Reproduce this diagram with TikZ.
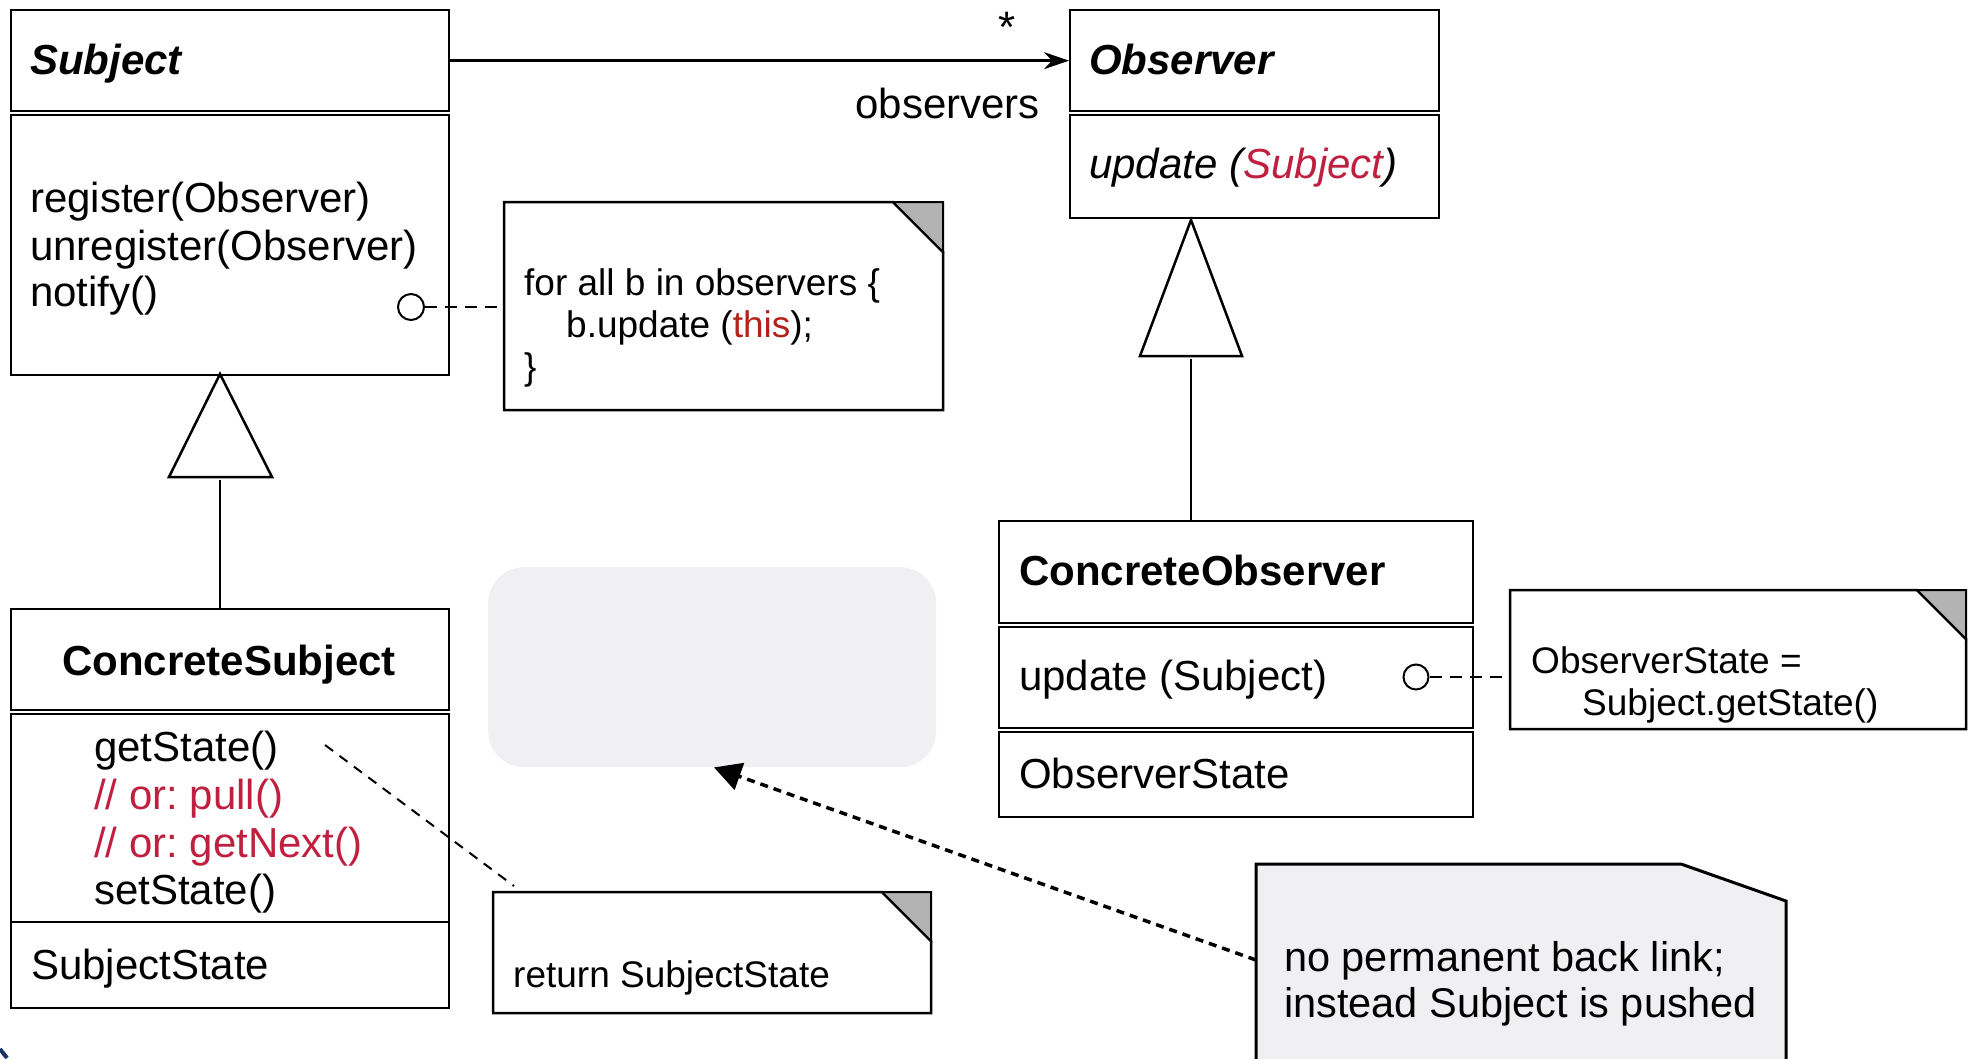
\documentclass[tikz,border=0pt]{standalone}
\usepackage{fontspec}
\setmainfont{Liberation Sans}
\usetikzlibrary{arrows.meta}
\definecolor{crim}{RGB}{192,32,64}
\definecolor{thisred}{RGB}{178,34,24}
\definecolor{foldgray}{RGB}{179,179,179}
\definecolor{softgray}{RGB}{240,240,242}
\definecolor{navymark}{RGB}{25,50,100}
\frenchspacing
\begin{document}
\begin{tikzpicture}[x=1pt,y=-1pt,
  box/.style={draw, line width=2.3pt, anchor=north west, inner sep=0pt},
  big/.style={inner sep=0pt, anchor=base west, font=\fontsize{42}{48}\selectfont},
  small/.style={inner sep=0pt, anchor=base west, font=\fontsize{37}{42}\selectfont},
  ring/.style={draw, circle, line width=2pt, minimum size=26pt, inner sep=0pt},
  notelink/.style={line width=2pt, dash pattern=on 12pt off 8pt},
  gen/.style={draw, line width=2.5pt, fill=white, line join=miter}
]
\useasboundingbox (0,0) rectangle (1974,1058);

% ---------- Subject ----------
\node[box, minimum width=438pt, minimum height=101pt] (subjH) at (10,9) {};
\node[box, minimum width=438pt, minimum height=260pt] (subjB) at (10,114) {};
\node[big, font=\fontsize{42}{48}\selectfont\bfseries\itshape] (subjT) at (30,74) {Subject};
\node[big] (m1) at (30,212) {register(Observer)};
\node[big] (m2) at (30,260) {unregister(Observer)};
\node[big] (m3) at (30,306) {notify()};
\node[ring] (c1) at (411,307) {};

% ---------- Observer ----------
\node[box, minimum width=369pt, minimum height=101pt] (obsH) at (1069,9) {};
\node[box, minimum width=369pt, minimum height=103pt] (obsB) at (1069,114) {};
\node[big, font=\fontsize{42}{48}\selectfont\bfseries\itshape] (obsT) at (1089,74) {Observer};
\node[big, font=\fontsize{42}{48}\selectfont\itshape] (obsU) at (1089,178) {update (\textcolor{crim}{Subject})};

% association
\draw[line width=2.5pt, -{Stealth[length=25pt,width=17pt,inset=8pt]}] (subjH.east) -- (obsH.west);
\node[font=\fontsize{44}{48}\selectfont, inner sep=0pt] (star) at (1007,27) {*};
\node[font=\fontsize{42}{48}\selectfont, inner sep=0pt, anchor=base east] (obsLbl) at (1040,118) {observers};

% ---------- note 1 ----------
\draw[line width=2.5pt, fill=white, line join=miter] (504,202) -- (893,202) -- (943,252) -- (943,410) -- (504,410) -- cycle;
\draw[line width=2pt, fill=foldgray] (893,202) -- (943,202) -- (943,252) -- cycle;
\node[small] (n1t1) at (524,295) {for all b in observers \{};
\node[small] (n1t2) at (566,337) {b.update (\textcolor{thisred}{this});};
\node[small] (n1t3) at (524,379) {\}};
\coordinate (n1l) at (504,307);
\draw[notelink] (c1.east) -- (n1l);

% ---------- generalisation Subject ----------
\draw[gen] (220,374) -- (272,477) -- (169,477) -- cycle;
\coordinate (t1base) at (220,480);

% ---------- ConcreteSubject ----------
\node[box, minimum width=438pt, minimum height=101pt] (csH) at (10,608) {};
\node[box, minimum width=438pt, minimum height=208pt] (csB) at (10,713) {};
\node[box, minimum width=438pt, minimum height=86pt] (csA) at (10,921) {};
\draw[line width=2pt] (t1base) -- (t1base |- csH.north);
\node[big, font=\fontsize{42}{48}\selectfont\bfseries, anchor=base] (csT) at (229,675) {ConcreteSubject};
\node[big] (g1) at (94,761) {getState()};
\node[big, text=crim] (g2) at (94,809) {// or: pull()};
\node[big, text=crim] (g3) at (94,857) {// or: getNext()};
\node[big] (g4) at (94,904) {setState()};
\node[big] (sa) at (31,979) {SubjectState};

% ---------- note 2 ----------
\draw[line width=2.5pt, fill=white, line join=miter] (493,892) -- (882,892) -- (931,941) -- (931,1013) -- (493,1013) -- cycle;
\draw[line width=2pt, fill=foldgray] (882,892) -- (931,892) -- (931,941) -- cycle;
\node[small] (n2t) at (513,987) {return SubjectState};
\coordinate (gs) at (325,745);
\coordinate (n2top) at (514,886);
\draw[line width=2pt, dash pattern=on 10pt off 8pt] (gs) -- (n2top);

% ---------- gray placeholder ----------
\node[draw=none, fill=softgray, rounded corners=36pt, anchor=north west, minimum width=448pt, minimum height=200pt, inner sep=0pt] (ph) at (488,567) {};

% ---------- generalisation Observer ----------
\draw[gen] (1191,220) -- (1242,356) -- (1140,356) -- cycle;
\coordinate (t2base) at (1191,359);

% ---------- ConcreteObserver ----------
\node[box, minimum width=474pt, minimum height=102pt] (coH) at (998,520) {};
\node[box, minimum width=474pt, minimum height=101pt] (coB) at (998,626) {};
\node[box, minimum width=474pt, minimum height=85pt] (coA) at (998,731) {};
\draw[line width=2pt] (t2base) -- (t2base |- coH.north);
\node[big, font=\fontsize{42}{48}\selectfont\bfseries] (coT) at (1019,585) {ConcreteObserver};
\node[big] (coU) at (1019,690) {update (Subject)};
\node[big] (coS) at (1019,788) {ObserverState};
\node[ring, minimum size=25pt] (c2) at (1416,677) {};

% ---------- note 3 ----------
\draw[line width=2.5pt, fill=white, line join=miter] (1510,590) -- (1917,590) -- (1966,639) -- (1966,729) -- (1510,729) -- cycle;
\draw[line width=2pt, fill=foldgray] (1917,590) -- (1966,590) -- (1966,639) -- cycle;
\node[small] (n3t1) at (1531,673) {ObserverState =};
\node[small] (n3t2) at (1582,715) {Subject.getState()};
\coordinate (n3l) at (1510,677);
\draw[notelink] (c2.east) -- (n3l);

% ---------- gray note ----------
\draw[line width=3pt, fill=softgray, line join=miter] (1256,1075) -- (1256,864) -- (1681,864) -- (1786,901) -- (1786,1075);
\node[big, font=\fontsize{41.5}{48}\selectfont] (n4t1) at (1284,971) {no permanent back link;};
\node[big, font=\fontsize{41.5}{48}\selectfont] (n4t2) at (1284,1017) {instead Subject is pushed};
\coordinate (n4l) at (1256,960);
\draw[line width=3.5pt, dash pattern=on 8pt off 6pt, -{Triangle[length=27pt,width=28pt]}] (n4l) -- (ph.south -| 714,0);

% ---------- corner mark ----------
\draw[navymark, line width=4pt] (0,1049) -- (7,1058);
\end{tikzpicture}
\end{document}
